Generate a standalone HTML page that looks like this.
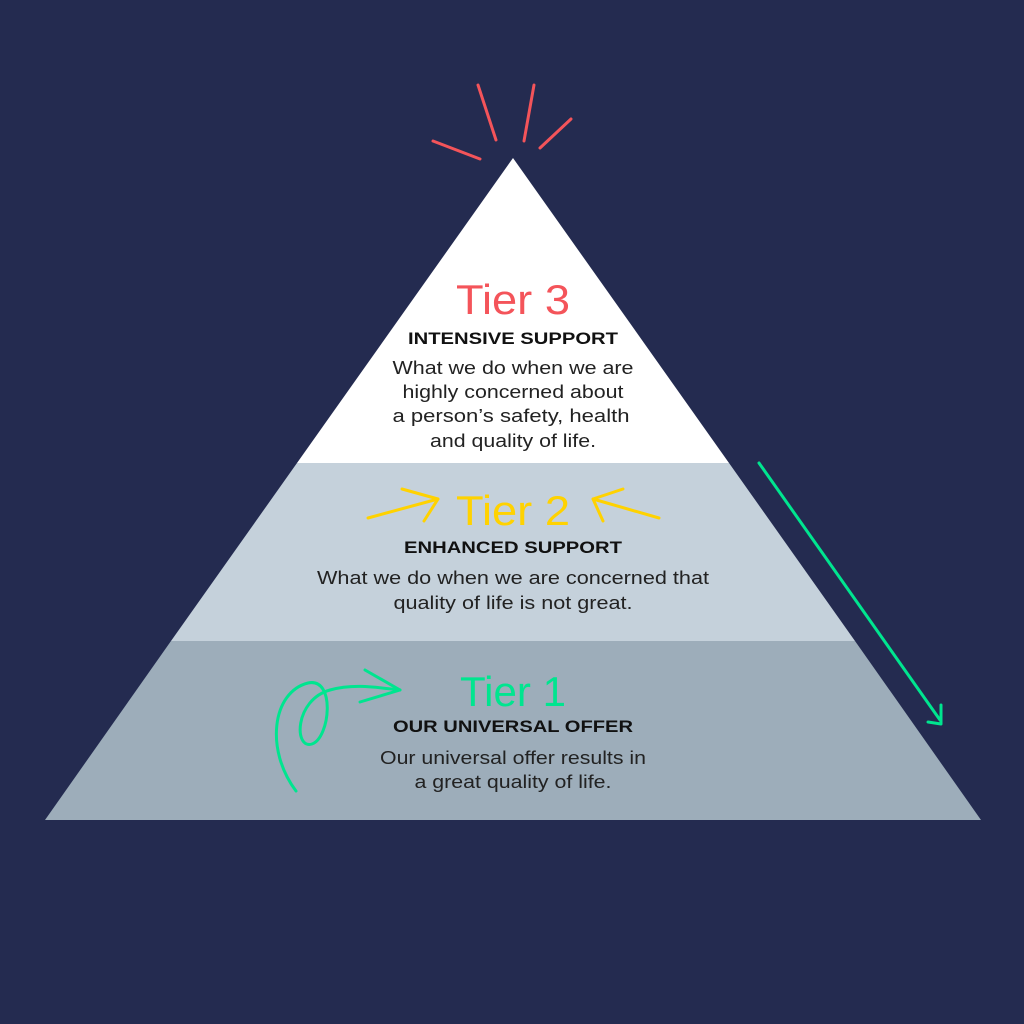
<!DOCTYPE html>
<html><head><meta charset="utf-8"><style>
html,body{margin:0;padding:0;background:#242B50;}
svg{display:block}
text{font-family:"Liberation Sans",sans-serif;text-anchor:middle}
</style></head><body>
<svg width="1024" height="1024" viewBox="0 0 1024 1024" xmlns="http://www.w3.org/2000/svg">
<rect width="1024" height="1024" fill="#242B50"/>
<polygon points="513,158 729,463 297,463" fill="#FFFFFF"/>
<polygon points="297,463 729,463 855,641 171,641" fill="#C5D1DB"/>
<polygon points="171,641 855,641 981,820 45,820" fill="#9DADBA"/>
<g stroke="#F4545A" stroke-width="3" stroke-linecap="round">
<line x1="433" y1="141" x2="480" y2="159"/>
<line x1="478" y1="85" x2="496" y2="140"/>
<line x1="534" y1="85" x2="524" y2="141"/>
<line x1="571" y1="119" x2="540" y2="148"/>
</g>
<g stroke="#00E58F" stroke-width="3" fill="none" stroke-linecap="round" stroke-linejoin="round">
<line x1="759" y1="463" x2="940" y2="720"/>
<polyline points="941,705 941,724 928,722"/>
<path d="M296,791 C265,750 272,692 308,683 C336,677 330,738 312,744 C294,750 294,700 330,690 C355,683 380,688 400,690"/>
<polyline points="365,670 400,690 360,702"/>
</g>
<g stroke="#FFD200" stroke-width="3" fill="none" stroke-linecap="round" stroke-linejoin="round">
<line x1="368" y1="518" x2="438" y2="499"/>
<polyline points="402,489 438,499 424,521"/>
<line x1="659" y1="518" x2="593" y2="499"/>
<polyline points="623,489 593,499 603,521"/>
</g>
<g lengthAdjust="spacingAndGlyphs">
<text x="513" y="314" font-size="42" fill="#F4545A" textLength="114" lengthAdjust="spacingAndGlyphs">Tier 3</text>
<text x="513" y="344" font-size="17" font-weight="bold" fill="#111" textLength="210" lengthAdjust="spacingAndGlyphs">INTENSIVE SUPPORT</text>
<g font-size="18" fill="#222">
<text x="513" y="374" textLength="241" lengthAdjust="spacingAndGlyphs">What we do when we are</text>
<text x="513" y="398" textLength="221" lengthAdjust="spacingAndGlyphs">highly concerned about</text>
<text x="511" y="422" textLength="237" lengthAdjust="spacingAndGlyphs">a person’s safety, health</text>
<text x="513" y="447" textLength="166" lengthAdjust="spacingAndGlyphs">and quality of life.</text>
</g>
<text x="513" y="525" font-size="42" fill="#FFD200" textLength="114" lengthAdjust="spacingAndGlyphs">Tier 2</text>
<text x="513" y="553" font-size="17" font-weight="bold" fill="#111" textLength="218" lengthAdjust="spacingAndGlyphs">ENHANCED SUPPORT</text>
<g font-size="18" fill="#222">
<text x="513" y="584" textLength="392" lengthAdjust="spacingAndGlyphs">What we do when we are concerned that</text>
<text x="513" y="609" textLength="239" lengthAdjust="spacingAndGlyphs">quality of life is not great.</text>
</g>
<text x="513" y="706" font-size="42" fill="#00E58F" textLength="106" lengthAdjust="spacingAndGlyphs">Tier 1</text>
<text x="513" y="732" font-size="17" font-weight="bold" fill="#111" textLength="240" lengthAdjust="spacingAndGlyphs">OUR UNIVERSAL OFFER</text>
<g font-size="18" fill="#222">
<text x="513" y="764" textLength="266" lengthAdjust="spacingAndGlyphs">Our universal offer results in</text>
<text x="513" y="788" textLength="197" lengthAdjust="spacingAndGlyphs">a great quality of life.</text>
</g>
</g>
</svg>
</body></html>
